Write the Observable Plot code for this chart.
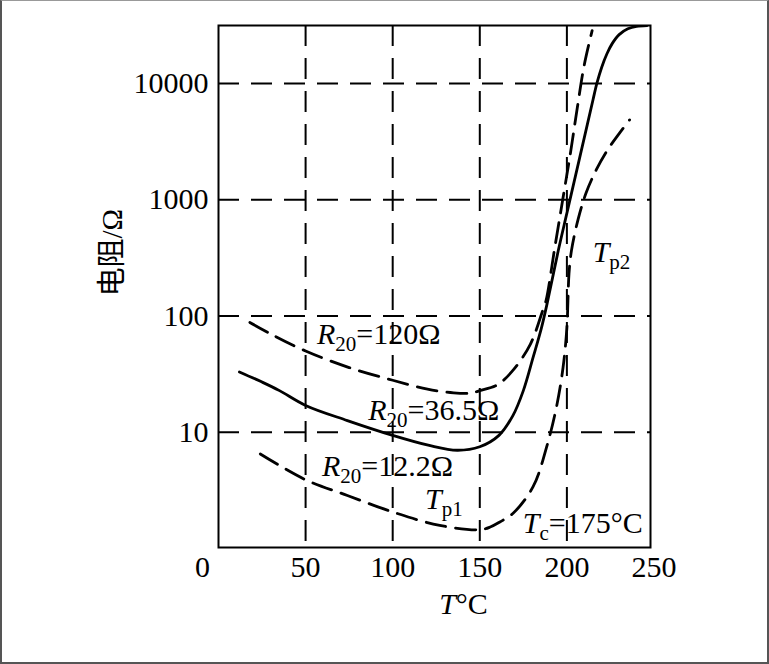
<!DOCTYPE html>
<html><head><meta charset="utf-8">
<script src="https://cdn.jsdelivr.net/npm/d3@7"></script>
<script src="https://cdn.jsdelivr.net/npm/@observablehq/plot@0.6"></script>
<style>
html,body{margin:0;padding:0;background:#fff;}
#wrap{position:relative;width:769px;height:664px;overflow:hidden;background:#fff;}
#border{position:absolute;left:0;top:0;width:769px;height:664px;box-sizing:border-box;border:2px solid #555;border-top:1px solid #999;pointer-events:none;}
#chart svg{display:block;}
</style></head><body>
<div id="wrap"><div id="chart"></div><div id="border"></div></div>
<script>
// ---- data ----
const xTickValues = [50, 100, 150, 200, 250];
const xZeroTick = [0];
const yTickValues = [10, 100, 1000, 10000];
const xGridValues = [50, 100, 150, 200];

// R20 = 120 Ω (upper dashed)
const T120 = [18, 30, 50, 75, 100, 120, 135, 145, 150, 160, 169, 179, 186, 188, 193, 197.6, 202, 206, 210, 214.5];
const R120 = [88, 70, 50, 36, 28, 23.5, 21.8, 21.7, 22.8, 25.5, 34, 57, 110, 135, 383, 1000, 2500, 6200, 14500, 28500];

// R20 = 36.5 Ω (solid)
const T365 = [12, 25, 35, 50, 74, 100, 121, 137, 150, 161, 169, 175, 180.6, 185.4, 189, 195, 200, 205, 210, 215, 217.2, 220, 223, 226, 230, 235, 240, 246];
const R365 = [33, 27, 22.8, 17, 12.6, 9.4, 7.7, 7.0, 7.5, 9.4, 13.9, 22.8, 44, 79, 135, 362, 766, 1620, 3420, 7240, 10000, 13800, 18000, 22000, 26300, 29500, 31000, 31500];

// R20 = 12.2 Ω (lower dashed)
const T122 = [24, 50, 74, 100, 127, 150, 156, 161.5, 169, 180.6, 188.3, 194, 197.8, 200, 200.6, 201.2, 202.6, 206.4, 211, 216.9, 223.5, 230, 236];
const R122 = [6.5, 3.9, 2.86, 2.06, 1.58, 1.45, 1.53, 1.69, 2.0, 3.4, 7.4, 16.4, 36, 79, 135, 230, 363, 675, 1140, 1810, 2700, 3700, 4860];

// annotations (*italic*, _subscript_)
const annText = ["*R*_20_=120Ω", "*R*_20_=36.5Ω", "*R*_20_=12.2Ω", "*T*_p1_", "*T*_c_=175°C", "*T*_p2_"];
const annT = [56.5, 85.9, 59.4, 118.6, 174.7, 214.8];
const annR = [69, 15.5, 5.04, 2.62, 1.64, 353];

const xTitle = "*T*°C";
const yTitle = "电阻/Ω";

// ---- build ----
const toRows = (T, R) => T.map((t, i) => ({T: t, R: R[i]}));
const rows120 = toRows(T120, R120);
const rows365 = toRows(T365, R365);
const rows122 = toRows(T122, R122);
const ann = annText.map((s, i) => ({s, T: annT[i], R: annR[i]}));

const serif = "Liberation Serif, Times New Roman, serif";
const dashCurve = "20,10";
const dashGrid = "21,12";
const FS = 30;

const chart = Plot.plot({
  width: 769,
  height: 664,
  marginLeft: 218,
  marginRight: 119,
  marginTop: 25,
  marginBottom: 117,
  style: {fontFamily: serif, fontSize: FS + "px", background: "transparent", color: "black"},
  x: {domain: [0, 248], axis: null},
  y: {type: "log", domain: [1.02, 31500], axis: null},
  marks: [
    Plot.ruleX(xGridValues, {stroke: "black", strokeWidth: 2, strokeDasharray: dashGrid}),
    Plot.ruleY(yTickValues, {stroke: "black", strokeWidth: 2, strokeDasharray: dashGrid}),
    Plot.frame({stroke: "black", strokeWidth: 2}),
    Plot.axisY(yTickValues, {anchor: "left", tickSize: 0, tickPadding: 10, tickFormat: d => String(d), label: null, fontSize: FS}),
    Plot.axisX(xTickValues, {anchor: "bottom", tickSize: 0, tickPadding: 8, tickFormat: d => String(d), label: null, fontSize: FS}),
    Plot.axisX(xZeroTick, {anchor: "bottom", tickSize: 0, tickPadding: 8, tickFormat: d => String(d), label: null, fontSize: FS, dx: -16}),
    Plot.line(rows120, {x: "T", y: "R", stroke: "black", strokeWidth: 2.8, strokeDasharray: dashCurve, curve: "catmull-rom"}),
    Plot.line(rows365, {x: "T", y: "R", stroke: "black", strokeWidth: 2.8, curve: "catmull-rom", clip: true}),
    Plot.line(rows122, {x: "T", y: "R", stroke: "black", strokeWidth: 2.8, strokeDasharray: dashCurve, curve: "catmull-rom"}),
    Plot.text(ann, {x: "T", y: "R", text: "s", textAnchor: "start", fontSize: FS, fontFamily: serif}),
    Plot.text([xTitle], {frameAnchor: "bottom", text: d => d, dx: 29, dy: 66, fontSize: FS, fontFamily: serif}),
    Plot.text([yTitle], {frameAnchor: "left", text: d => d, rotate: -90, dx: -106, dy: 10, fontSize: 29, fontFamily: "Liberation Serif, Noto Sans CJK SC, serif"})
  ]
});

// turn *italic* and _subscript_ markup into tspans
const NS = "http://www.w3.org/2000/svg";
chart.querySelectorAll("text").forEach(t => {
  const s = t.textContent;
  if (!/[*_]/.test(s)) return;
  const parts = s.split(/(\*[^*]+\*|_[^_]+_)/).filter(p => p);
  t.textContent = "";
  let sub = false;
  for (const p of parts) {
    const ts = document.createElementNS(NS, "tspan");
    if (p[0] === "_") {
      ts.textContent = p.slice(1, -1);
      ts.setAttribute("font-size", "21");
      ts.setAttribute("dy", "7");
      sub = true;
    } else {
      const italic = p[0] === "*";
      ts.textContent = italic ? p.slice(1, -1) : p;
      if (italic) ts.setAttribute("font-style", "italic");
      if (sub) { ts.setAttribute("dy", "-7"); sub = false; }
    }
    t.appendChild(ts);
  }
});

document.getElementById("chart").appendChild(chart);
</script>
</body></html>
